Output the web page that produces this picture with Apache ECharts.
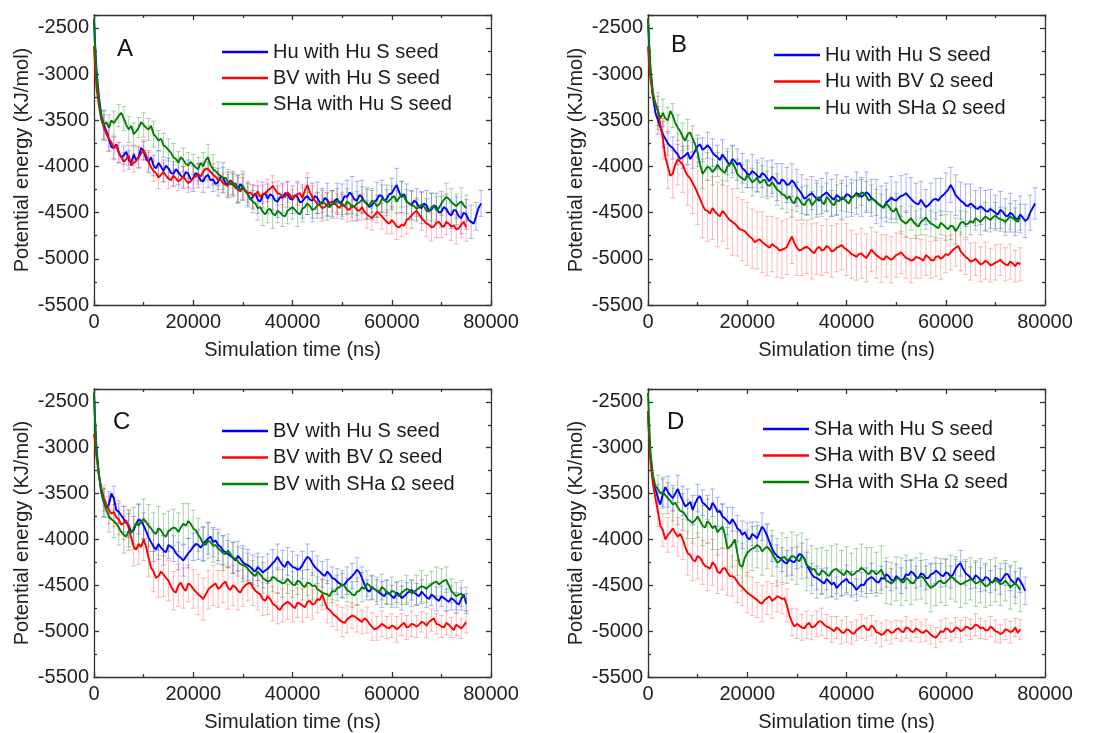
<!DOCTYPE html>
<html><head><meta charset="utf-8">
<script src="https://cdn.jsdelivr.net/npm/echarts@6/dist/echarts.min.js"></script>
<style>html,body{margin:0;padding:0;background:#fff}#c{width:1104px;height:733px}</style>
</head><body><div id="c"></div>
<script>
// time samples (ns)
const T = [0,250,500,1000,1500,2000,2500,3000,3500,4000,4500,5000,5500,6000,6500,7000,7500,8000,8500,9000,9500,10000,10500,11000,11500,12000,12500,13000,13500,14000,14500,15000,15500,16000,16500,17000,17500,18000,18500,19000,19500,20000,20500,21000,21500,22000,22500,23000,23500,24000,24500,25000,25500,26000,26500,27000,27500,28000,28500,29000,29500,30000,30500,31000,31500,32000,32500,33000,33500,34000,34500,35000,35500,36000,36500,37000,37500,38000,38500,39000,39500,40000,40500,41000,41500,42000,42500,43000,43500,44000,44500,45000,45500,46000,46500,47000,47500,48000,48500,49000,49500,50000,50500,51000,51500,52000,52500,53000,53500,54000,54500,55000,55500,56000,56500,57000,57500,58000,58500,59000,59500,60000,60500,61000,61500,62000,62500,63000,63500,64000,64500,65000,65500,66000,66500,67000,67500,68000,68500,69000,69500,70000,70500,71000,71500,72000,72500,73000,73500,74000,74500,75000,75500,76000,76500,77000,77500,78000];
// error-bar sample times (ns)
const EX = [2000,3000,4000,5000,6000,7000,8000,9000,10000,11000,12000,13000,14000,15000,16000,17000,18000,19000,20000,21000,22000,23000,24000,25000,26000,27000,28000,29000,30000,31000,32000,33000,34000,35000,36000,37000,38000,39000,40000,41000,42000,43000,44000,45000,46000,47000,48000,49000,50000,51000,52000,53000,54000,55000,56000,57000,58000,59000,60000,61000,62000,63000,64000,65000,66000,67000,68000,69000,70000,71000,72000,73000,74000,75000,76000,77000,78000];

const xTicks = [0,20000,40000,60000,80000];
const yTicks = [-5500,-5000,-4500,-4000,-3500,-3000,-2500];

const namesA = ['Hu with Hu S seed','BV with Hu S seed','SHa with Hu S seed'];
const namesB = ['Hu with Hu S seed','Hu with BV Ω seed','Hu with SHa Ω seed'];
const namesC = ['BV with Hu S seed','BV with BV Ω seed','BV with SHa Ω seed'];
const namesD = ['SHa with Hu S seed','SHa with BV Ω seed','SHa with SHa Ω seed'];

// ---- Panel A ----
const A_blue = [-2400,-2700,-2950,-3250,-3450,-3550,-3620,-3700,
-3790,-3800,-3760,-3850,-3900,-3880,-3840,-3930,-3960,-3870,-3930,-3900,-3800,-3830,-3920,-3950,-3900,-3990,-4020,-3960,-4000,-4050,-3990,-4020,-4070,-4080,-4030,-4060,-4100,-4120,-4060,-4080,-4140,-4130,-4070,-4100,-4150,-4160,-4110,-4090,-4150,-4140,-4190,-4170,-4110,-4120,-4180,-4200,-4150,-4180,-4230,-4250,-4190,-4220,-4270,-4300,-4360,-4330,-4290,-4360,-4380,-4310,-4290,-4350,-4300,-4320,-4370,-4380,-4330,-4340,-4290,-4300,-4350,-4360,-4310,-4330,-4390,-4380,-4340,-4320,-4360,-4370,-4320,-4340,-4390,-4400,-4340,-4360,-4420,-4410,-4370,-4350,-4400,-4380,-4320,-4330,-4280,-4310,-4360,-4370,-4310,-4330,-4380,-4400,-4440,-4420,-4380,-4360,-4310,-4320,-4370,-4350,-4300,-4290,-4240,-4200,-4280,-4330,-4300,-4380,-4400,-4420,-4370,-4390,-4440,-4450,-4400,-4420,-4480,-4470,-4420,-4440,-4500,-4490,-4440,-4460,-4510,-4530,-4470,-4480,-4540,-4560,-4500,-4520,-4580,-4600,-4620,-4540,-4450,-4400];
const A_red = [-2700,-2950,-3150,-3350,-3500,-3580,-3650,-3700,
-3740,-3800,-3770,-3850,-3900,-3950,-3920,-3880,-3990,-3960,-3940,-3900,-3860,-3820,-3880,-3950,-4010,-4050,-4070,-4120,-4090,-4060,-4100,-4130,-4150,-4100,-4130,-4160,-4140,-4110,-4150,-4180,-4160,-4120,-4110,-4080,-4110,-4060,-4020,-4030,-4060,-4090,-4110,-4150,-4140,-4180,-4200,-4210,-4160,-4190,-4220,-4250,-4270,-4230,-4260,-4290,-4280,-4320,-4310,-4270,-4330,-4300,-4290,-4260,-4240,-4210,-4250,-4290,-4300,-4320,-4330,-4280,-4310,-4350,-4320,-4300,-4290,-4340,-4260,-4200,-4280,-4330,-4370,-4400,-4420,-4450,-4440,-4410,-4390,-4380,-4400,-4430,-4450,-4400,-4430,-4460,-4470,-4420,-4440,-4470,-4480,-4440,-4490,-4520,-4540,-4560,-4530,-4490,-4510,-4540,-4570,-4600,-4620,-4580,-4610,-4650,-4660,-4630,-4640,-4580,-4560,-4530,-4500,-4480,-4520,-4560,-4590,-4620,-4630,-4660,-4650,-4610,-4600,-4640,-4650,-4600,-4620,-4650,-4640,-4680,-4670,-4630,-4600,-4660];
const A_green = [-2400,-2750,-3000,-3300,-3480,-3550,-3520,-3580,
-3500,-3530,-3490,-3450,-3420,-3480,-3550,-3600,-3560,-3650,-3620,-3580,-3520,-3550,-3580,-3600,-3560,-3650,-3680,-3720,-3700,-3770,-3790,-3820,-3850,-3900,-3920,-3960,-3900,-3930,-3970,-3990,-3950,-3980,-4010,-4030,-3960,-4000,-3930,-3900,-3990,-4030,-4050,-4080,-4100,-4130,-4120,-4170,-4190,-4200,-4180,-4240,-4250,-4210,-4260,-4300,-4350,-4380,-4400,-4450,-4440,-4490,-4520,-4470,-4460,-4510,-4530,-4480,-4500,-4530,-4540,-4480,-4460,-4440,-4470,-4500,-4520,-4460,-4440,-4400,-4430,-4470,-4460,-4420,-4410,-4380,-4400,-4430,-4440,-4400,-4410,-4370,-4380,-4420,-4430,-4380,-4400,-4440,-4430,-4400,-4390,-4360,-4380,-4410,-4420,-4370,-4390,-4430,-4410,-4350,-4360,-4390,-4370,-4340,-4320,-4380,-4340,-4300,-4330,-4380,-4400,-4420,-4430,-4460,-4440,-4410,-4430,-4480,-4490,-4440,-4430,-4470,-4450,-4400,-4360,-4330,-4350,-4380,-4410,-4430,-4400,-4380,-4420,-4450];
const A_blue_err = [160,140,120,110,100,100,90,110,100,120,110,130,120,110,130,140,120,150,140,130,120,140,130,150,160,140,130,150,140,120,130,150,140,160,150,170,160,140,150,170,180,200,190,170,160,180,150,170,190,180,200,210,180,170,160,190,170,150,160,180,170,190,160,150,170,160,180,150,170,160,140,150,170,160,180,150,140];
const A_red_err = [140,130,120,110,100,110,100,120,110,100,110,120,100,110,120,100,110,100,120,110,100,110,120,100,110,120,110,130,110,100,120,110,100,120,110,130,120,110,100,120,110,130,120,110,140,120,110,130,120,140,130,120,140,150,130,120,140,130,150,140,130,150,140,120,130,140,150,160,130,140,150,160,140,150];
const A_green_err = [150,140,130,120,130,140,120,110,130,120,140,110,130,120,150,120,130,140,110,130,150,140,160,130,120,140,130,150,160,140,120,130,150,140,160,130,120,140,130,150,140,120,130,140,120,150,140,130,120,140,150,130,140,160,130,120,150,140,130,120,140,130,150,120,140,130,150,140,130,150,140,130,150,140];

// ---- Panel B ----
const B_blue = [-2400,-2700,-2950,-3250,-3420,-3500,-3580,-3650,
-3700,-3750,-3780,-3800,-3840,-3870,-3920,-3900,-3880,-3850,-3920,-3880,-3830,-3780,-3760,-3820,-3800,-3770,-3800,-3850,-3880,-3900,-3930,-3870,-3910,-3950,-3980,-3920,-3940,-3980,-3960,-4020,-4040,-4080,-4090,-4050,-4070,-4100,-4120,-4070,-4090,-4130,-4160,-4110,-4130,-4170,-4190,-4140,-4160,-4200,-4190,-4150,-4180,-4230,-4260,-4300,-4350,-4330,-4310,-4290,-4320,-4350,-4370,-4320,-4300,-4280,-4310,-4340,-4360,-4310,-4330,-4360,-4340,-4300,-4310,-4340,-4320,-4290,-4300,-4330,-4310,-4280,-4300,-4340,-4360,-4380,-4410,-4430,-4440,-4390,-4370,-4340,-4360,-4370,-4340,-4320,-4310,-4290,-4320,-4350,-4380,-4400,-4410,-4360,-4400,-4440,-4420,-4390,-4360,-4350,-4370,-4330,-4310,-4280,-4250,-4200,-4250,-4310,-4340,-4370,-4390,-4420,-4430,-4400,-4420,-4450,-4460,-4430,-4450,-4480,-4490,-4460,-4480,-4500,-4520,-4470,-4490,-4530,-4540,-4500,-4520,-4560,-4570,-4520,-4550,-4590,-4570,-4500,-4450,-4400];
const B_red = [-2700,-2900,-3050,-3250,-3320,-3400,-3550,-3700,
-3900,-4000,-4100,-4080,-3980,-3920,-3950,-3980,-4050,-4100,-4130,-4180,-4230,-4290,-4350,-4420,-4470,-4480,-4510,-4450,-4490,-4520,-4540,-4480,-4510,-4550,-4580,-4600,-4620,-4650,-4680,-4690,-4700,-4730,-4760,-4780,-4820,-4800,-4790,-4820,-4840,-4860,-4880,-4840,-4860,-4880,-4910,-4900,-4890,-4870,-4810,-4760,-4830,-4880,-4910,-4900,-4880,-4870,-4890,-4920,-4940,-4890,-4870,-4910,-4900,-4860,-4880,-4920,-4910,-4880,-4870,-4850,-4880,-4900,-4920,-4950,-4960,-4980,-4950,-4940,-4970,-4990,-4950,-4900,-4930,-4960,-4980,-5000,-5010,-4970,-4990,-5010,-4990,-4960,-4950,-4930,-4960,-4990,-5000,-5020,-5010,-4980,-4990,-5000,-5020,-4960,-4980,-5010,-5020,-4980,-4970,-5000,-4980,-4950,-4960,-4930,-4900,-4880,-4860,-4920,-4950,-4980,-5000,-5030,-5020,-5000,-5030,-5060,-5050,-5020,-5040,-5070,-5060,-5040,-5030,-5010,-5040,-5060,-5070,-5030,-5050,-5080,-5040,-5060];
const B_green = [-2400,-2700,-2950,-3200,-3320,-3400,-3480,-3420,
-3480,-3500,-3400,-3450,-3530,-3580,-3620,-3680,-3720,-3650,-3630,-3700,-3760,-3850,-3980,-4080,-4040,-4000,-4020,-4060,-4030,-3980,-4020,-4050,-4070,-4000,-3980,-3950,-4010,-4080,-4110,-4130,-4150,-4090,-4130,-4170,-4150,-4120,-4180,-4160,-4140,-4200,-4210,-4170,-4210,-4250,-4270,-4300,-4310,-4350,-4320,-4380,-4400,-4330,-4360,-4400,-4420,-4370,-4350,-4420,-4390,-4350,-4330,-4380,-4410,-4330,-4360,-4400,-4420,-4360,-4380,-4330,-4350,-4380,-4400,-4340,-4320,-4300,-4330,-4280,-4290,-4320,-4370,-4350,-4360,-4390,-4410,-4430,-4450,-4400,-4430,-4470,-4490,-4450,-4520,-4580,-4600,-4620,-4590,-4560,-4600,-4630,-4650,-4600,-4580,-4550,-4590,-4620,-4630,-4650,-4670,-4610,-4630,-4660,-4680,-4640,-4650,-4700,-4660,-4610,-4600,-4630,-4620,-4590,-4610,-4560,-4580,-4600,-4570,-4540,-4560,-4580,-4550,-4530,-4560,-4570,-4580,-4600,-4570,-4540,-4560,-4580,-4600,-4550];
const B_blue_err = [150,140,130,120,110,120,130,140,120,130,140,150,130,160,140,150,170,160,150,180,170,160,190,180,200,170,190,180,200,210,190,180,200,190,210,200,220,210,190,200,230,210,220,200,240,220,210,230,200,220,210,230,220,200,190,210,220,200,210,190,220,200,230,210,190,200,220,210,190,200,180,210,190,200,180,190,170];
const B_red_err = [200,220,240,260,280,300,320,330,340,350,330,340,350,330,340,360,320,330,340,320,310,330,320,300,320,310,300,290,300,280,290,300,280,270,290,280,260,270,280,260,250,270,260,240,250,260,230,250,240,230,220,240,230,210,220,200,210,220,200,190,200,210,190,200,180,190,200,180,190,170,180,190,170,180];
const B_green_err = [160,150,140,130,140,150,160,140,150,160,150,140,130,150,160,170,160,150,140,150,160,170,150,160,170,160,150,170,160,180,160,150,170,160,150,140,160,150,170,160,150,140,160,150,140,130,150,140,160,150,140,130,150,140,130,140,150,130,140,150,140,130,140,150,130,140,150,130,140,130,150,140,130,140];

// ---- Panel C ----
const C_blue = [-2400,-2750,-3000,-3300,-3500,-3600,-3650,-3620,
-3500,-3550,-3680,-3700,-3740,-3780,-3820,-3850,-3920,-3900,-3830,-3780,-3800,-3850,-3910,-3980,-4030,-4080,-4110,-4050,-4090,-4120,-4140,-4060,-4080,-4100,-4150,-4180,-4200,-4230,-4190,-4150,-4120,-4080,-4050,-4060,-4090,-4050,-4020,-3990,-3970,-4030,-4010,-4060,-4080,-4120,-4140,-4160,-4180,-4200,-4230,-4180,-4210,-4250,-4270,-4280,-4300,-4330,-4350,-4300,-4330,-4360,-4340,-4320,-4290,-4260,-4230,-4190,-4240,-4280,-4300,-4240,-4270,-4300,-4310,-4330,-4320,-4280,-4230,-4190,-4210,-4260,-4300,-4330,-4350,-4380,-4400,-4350,-4380,-4420,-4430,-4460,-4480,-4500,-4490,-4450,-4430,-4400,-4370,-4330,-4360,-4420,-4490,-4550,-4570,-4520,-4540,-4560,-4580,-4600,-4620,-4570,-4590,-4620,-4640,-4580,-4600,-4640,-4620,-4590,-4570,-4550,-4580,-4600,-4620,-4570,-4600,-4630,-4650,-4600,-4620,-4650,-4670,-4620,-4640,-4660,-4680,-4640,-4660,-4690,-4710,-4650,-4600,-4700];
const C_red = [-2850,-2950,-3100,-3300,-3450,-3550,-3620,-3680,
-3720,-3700,-3760,-3780,-3840,-3820,-3790,-3880,-3980,-4080,-4110,-4050,-4080,-4000,-4080,-4200,-4310,-4350,-4420,-4400,-4350,-4380,-4420,-4450,-4510,-4560,-4580,-4500,-4470,-4530,-4560,-4480,-4500,-4540,-4570,-4600,-4620,-4650,-4600,-4550,-4520,-4500,-4480,-4540,-4520,-4480,-4460,-4530,-4550,-4500,-4520,-4560,-4580,-4530,-4500,-4480,-4470,-4520,-4560,-4580,-4600,-4650,-4670,-4620,-4650,-4700,-4720,-4750,-4770,-4720,-4700,-4680,-4700,-4730,-4750,-4690,-4700,-4720,-4740,-4680,-4670,-4710,-4700,-4650,-4660,-4600,-4680,-4750,-4770,-4800,-4830,-4850,-4880,-4900,-4910,-4870,-4850,-4830,-4840,-4860,-4880,-4900,-4860,-4880,-4920,-4950,-4980,-4970,-4950,-4920,-4940,-4960,-4970,-4940,-4950,-4980,-4960,-4930,-4910,-4960,-4950,-4920,-4930,-4950,-4930,-4900,-4910,-4940,-4900,-4880,-4860,-4920,-4930,-4950,-4960,-4910,-4930,-4960,-4990,-4930,-4950,-4970,-4940,-4900];
const C_green = [-2400,-2750,-3050,-3300,-3480,-3600,-3680,-3750,
-3780,-3800,-3830,-3870,-3920,-3950,-3970,-3900,-3930,-3880,-3820,-3850,-3800,-3780,-3810,-3850,-3880,-3920,-3940,-3880,-3900,-3950,-3970,-3910,-3890,-3870,-3880,-3920,-3870,-3830,-3850,-3800,-3830,-3880,-3900,-3950,-3990,-4050,-4060,-4010,-4030,-4070,-4060,-4100,-4120,-4150,-4160,-4120,-4160,-4200,-4210,-4240,-4270,-4280,-4290,-4320,-4350,-4380,-4400,-4350,-4380,-4420,-4440,-4460,-4450,-4410,-4420,-4450,-4460,-4480,-4470,-4430,-4460,-4490,-4500,-4450,-4460,-4500,-4520,-4470,-4480,-4510,-4500,-4540,-4560,-4580,-4590,-4600,-4620,-4560,-4570,-4530,-4520,-4490,-4510,-4550,-4570,-4600,-4610,-4570,-4560,-4520,-4540,-4480,-4500,-4530,-4540,-4560,-4570,-4520,-4540,-4580,-4600,-4560,-4570,-4600,-4620,-4580,-4560,-4540,-4550,-4590,-4570,-4550,-4530,-4510,-4520,-4540,-4510,-4490,-4470,-4460,-4490,-4470,-4450,-4440,-4500,-4560,-4590,-4620,-4600,-4590,-4630,-4650];
const C_blue_err = [150,140,130,120,140,130,150,160,140,150,160,170,160,150,140,150,170,160,150,160,180,170,160,170,160,150,170,160,180,170,160,150,170,160,150,140,160,150,170,160,150,140,130,150,140,130,120,140,130,150,140,130,120,110,130,120,140,130,120,110,130,120,110,120,130,110,120,130,110,120,130,110,120,110];
const C_red_err = [140,150,160,170,180,200,210,220,230,210,220,230,240,220,210,230,220,200,210,220,230,210,220,200,210,230,220,210,200,190,200,190,180,200,190,170,180,190,170,160,180,170,160,150,170,160,150,140,160,150,140,150,130,140,150,130,140,120,130,140,120,130,140,120,110,130,120,110,120,130,110,120,110,120];
const C_green_err = [160,170,180,190,200,220,230,240,220,230,210,240,230,220,200,210,220,190,200,180,190,200,180,170,190,180,170,160,180,170,150,160,170,150,160,140,150,160,140,150,160,140,150,130,140,150,130,140,150,130,140,150,160,140,130,150,140,130,150,140,130,150,140,160,170,150,140,160,150,140,130,150,140,130];

// ---- Panel D ----
const D_blue = [-2600,-2900,-3100,-3350,-3450,-3550,-3620,-3500,
-3430,-3480,-3520,-3550,-3500,-3450,-3520,-3580,-3640,-3620,-3590,-3680,-3610,-3550,-3530,-3600,-3620,-3650,-3680,-3600,-3640,-3700,-3690,-3750,-3770,-3800,-3830,-3780,-3820,-3880,-3900,-3950,-3920,-3980,-4000,-3940,-3960,-3990,-3920,-3860,-3900,-3960,-4030,-4100,-4150,-4180,-4200,-4220,-4250,-4260,-4220,-4240,-4250,-4200,-4160,-4170,-4210,-4280,-4330,-4380,-4410,-4420,-4440,-4460,-4480,-4430,-4460,-4490,-4470,-4530,-4500,-4470,-4450,-4430,-4470,-4480,-4510,-4550,-4520,-4490,-4500,-4450,-4430,-4410,-4430,-4460,-4470,-4420,-4430,-4380,-4400,-4440,-4450,-4400,-4420,-4450,-4430,-4380,-4390,-4350,-4370,-4410,-4420,-4370,-4380,-4420,-4420,-4380,-4370,-4340,-4360,-4390,-4400,-4360,-4370,-4410,-4380,-4320,-4280,-4260,-4320,-4370,-4390,-4420,-4440,-4390,-4410,-4440,-4450,-4410,-4420,-4460,-4470,-4420,-4430,-4460,-4420,-4380,-4380,-4430,-4460,-4490,-4420,-4450,-4500,-4560];
const D_red = [-2600,-2900,-3150,-3400,-3550,-3700,-3850,-3900,
-4000,-3950,-3920,-3880,-3930,-3970,-3940,-4000,-4080,-4150,-4170,-4220,-4240,-4180,-4200,-4250,-4290,-4300,-4320,-4250,-4280,-4350,-4370,-4320,-4310,-4360,-4400,-4400,-4420,-4460,-4500,-4520,-4550,-4580,-4600,-4620,-4640,-4660,-4690,-4700,-4660,-4640,-4620,-4670,-4650,-4620,-4630,-4650,-4640,-4720,-4830,-4900,-4950,-4920,-4940,-4960,-4970,-4930,-4910,-4960,-4950,-4920,-4890,-4900,-4930,-4950,-4960,-4980,-5000,-4960,-4980,-5010,-5020,-4980,-4990,-5020,-5030,-4990,-4970,-4950,-4940,-4980,-4990,-4940,-4960,-5010,-5020,-5040,-5030,-4990,-4990,-5020,-5010,-4980,-4970,-5000,-5010,-4960,-4970,-5000,-5010,-4970,-4990,-5010,-5020,-4990,-5010,-5040,-5060,-5070,-5040,-5000,-5010,-4970,-4980,-5010,-5000,-4960,-4970,-5000,-4990,-4950,-4960,-4980,-4960,-4930,-4940,-4970,-4960,-4990,-4990,-4950,-4970,-5000,-5010,-5030,-5020,-4980,-4990,-5010,-5000,-4960,-5020,-4980];
const D_green = [-2400,-2750,-3050,-3300,-3420,-3450,-3500,-3480,
-3520,-3550,-3580,-3620,-3600,-3650,-3690,-3700,-3730,-3780,-3800,-3820,-3790,-3750,-3800,-3850,-3870,-3800,-3830,-3880,-3850,-3920,-3890,-3860,-3950,-4100,-4080,-4050,-4000,-4150,-4280,-4300,-4200,-4150,-4120,-4100,-4090,-4060,-4080,-4130,-4100,-4080,-4110,-4150,-4200,-4250,-4240,-4200,-4190,-4230,-4210,-4180,-4190,-4220,-4240,-4180,-4210,-4280,-4300,-4330,-4320,-4370,-4390,-4340,-4350,-4380,-4400,-4350,-4330,-4320,-4350,-4370,-4390,-4340,-4360,-4390,-4380,-4350,-4340,-4310,-4330,-4360,-4380,-4340,-4350,-4380,-4360,-4330,-4390,-4450,-4460,-4480,-4460,-4430,-4420,-4460,-4470,-4420,-4440,-4470,-4480,-4430,-4420,-4400,-4420,-4460,-4500,-4530,-4510,-4490,-4460,-4450,-4480,-4470,-4440,-4410,-4420,-4450,-4470,-4490,-4480,-4460,-4450,-4430,-4450,-4480,-4470,-4450,-4480,-4510,-4500,-4470,-4460,-4440,-4460,-4490,-4480,-4450,-4480,-4520,-4500,-4470,-4510,-4550];
const D_blue_err = [150,160,170,140,150,160,170,160,150,140,130,150,160,140,150,130,140,150,160,130,140,150,130,140,120,130,140,150,120,130,140,120,130,140,120,130,120,140,150,130,120,130,140,150,120,130,140,120,130,140,150,130,120,140,130,120,140,130,150,120,130,140,130,120,140,130,150,120,130,140,120,130,140,130,150];
const D_red_err = [160,180,190,200,210,220,240,230,250,240,260,250,240,230,250,220,230,200,220,210,190,200,180,190,170,160,180,150,160,140,150,130,140,150,130,140,120,130,140,120,110,130,120,110,120,130,110,120,100,110,120,110,100,110,120,100,110,120,110,100,110,120,100,110,120,110,100,110,120,100,110,120,100,110];
const D_green_err = [150,160,170,180,190,200,210,220,230,220,240,230,250,240,230,250,240,260,250,240,250,260,240,250,260,270,250,260,270,250,280,260,270,250,260,280,270,250,260,240,250,260,270,250,240,260,250,230,240,260,250,240,230,250,240,260,230,240,250,240,230,250,240,230,250,240,230,250,240,230,220,240,230,240];

const COLORS = ['#0000ff','#ff0000','#008000'];
const ERRCOLORS = ['rgba(70,70,255,0.42)','rgba(255,70,70,0.38)','rgba(40,140,40,0.38)'];
const FONT = '"Liberation Sans", Arial, Helvetica, sans-serif';

const panels = [
  {letter:'A', names:namesA, vals:[A_blue,A_red,A_green], errs:[A_blue_err,A_red_err,A_green_err],
   grid:{left:94,top:15,width:397,height:290}, letterPos:[126,50], legend:{left:222,top:42,itemGap:6}},
  {letter:'B', names:namesB, vals:[B_blue,B_red,B_green], errs:[B_blue_err,B_red_err,B_green_err],
   grid:{left:648,top:15,width:397,height:290}, letterPos:[680,46], legend:{left:774,top:45,itemGap:6.5}},
  {letter:'C', names:namesC, vals:[C_blue,C_red,C_green], errs:[C_blue_err,C_red_err,C_green_err],
   grid:{left:94,top:389,width:397,height:290}, letterPos:[122,423], legend:{left:222,top:421,itemGap:6.5}},
  {letter:'D', names:namesD, vals:[D_blue,D_red,D_green], errs:[D_blue_err,D_red_err,D_green_err],
   grid:{left:648,top:389,width:397,height:290}, letterPos:[676,423], legend:{left:763,top:419,itemGap:6.5}}
];

const axisLineStyle = {color:'#333', width:1.3};
const labelStyle = {fontSize:20, color:'#222', fontFamily:FONT};

const grids=[], xAxes=[], yAxes=[], series=[], legends=[], graphics=[];
function tickParts() {
  return {axisLine:{show:true, onZero:false, lineStyle:axisLineStyle},
    axisTick:{show:true, inside:true, length:5, lineStyle:axisLineStyle},
    minorTick:{show:true, splitNumber:2, length:3, lineStyle:axisLineStyle},
    splitLine:{show:false}};
}
panels.forEach((p, pi) => {
  grids.push(Object.assign({containLabel:false}, p.grid));
  xAxes.push(Object.assign({gridIndex:pi, type:'value', min:0, max:80000, interval:20000, position:'bottom',
    name:'Simulation time (ns)', nameLocation:'middle', nameGap:35,
    nameTextStyle:{fontSize:20, color:'#222', fontFamily:FONT},
    axisLabel:Object.assign({margin:7, formatter: v => xTicks.includes(v) ? String(v) : ''}, labelStyle)}, tickParts()));
  yAxes.push(Object.assign({gridIndex:pi, type:'value', min:-5500, max:-2360, interval:500, position:'left',
    name:'Potential energy (KJ/mol)', nameLocation:'middle', nameGap:62,
    nameTextStyle:{fontSize:20, color:'#222', fontFamily:FONT},
    axisLabel:Object.assign({margin:5, formatter: v => yTicks.includes(v) ? String(v) : ''}, labelStyle)}, tickParts()));
  legends.push({orient:'vertical', left:p.legend.left, top:p.legend.top, itemGap:p.legend.itemGap,
    itemWidth:46, itemHeight:2.5, icon:'rect', padding:0, selectedMode:false,
    data:p.names.map((n, k) => ({name:n, icon:'rect', itemStyle:{color:COLORS[k], borderWidth:0}})),
    textStyle:{fontSize:20, lineHeight:20, color:'#1a1a1a', fontFamily:FONT}});
  graphics.push({type:'text', left:p.letterPos[0]-9, top:p.letterPos[1]-13,
    style:{text:p.letter, fontSize:24, fill:'#111', fontFamily:FONT}});
});
// mirrored top / right axes (ticks only)
panels.forEach((p, pi) => {
  xAxes.push(Object.assign({gridIndex:pi, type:'value', position:'top', min:0, max:80000, interval:20000,
    axisLabel:{show:false}}, tickParts()));
  yAxes.push(Object.assign({gridIndex:pi, type:'value', position:'right', min:-5500, max:-2360, interval:500,
    axisLabel:{show:false}}, tickParts()));
});

panels.forEach((p, pi) => {
  p.vals.forEach((vals, k) => {
    const errs = p.errs[k];
    const data = [];
    errs.forEach((e, j) => {
      const i = T.indexOf(EX[j]);
      if (i >= 0 && i < vals.length) data.push([EX[j], vals[i]-e, vals[i]+e]);
    });
    series.push({type:'custom', xAxisIndex:pi, yAxisIndex:pi, z:1, silent:true,
      data, encode:{x:0, y:[1,2]},
      renderItem:(params, api) => {
        const x = api.value(0);
        const top = api.coord([x, api.value(2)]);
        const bot = api.coord([x, api.value(1)]);
        const cw = 2.5;
        const st = {stroke:ERRCOLORS[k], lineWidth:1};
        return {type:'group', children:[
          {type:'line', shape:{x1:top[0], y1:top[1], x2:bot[0], y2:bot[1]}, style:st},
          {type:'line', shape:{x1:top[0]-cw, y1:top[1], x2:top[0]+cw, y2:top[1]}, style:st},
          {type:'line', shape:{x1:bot[0]-cw, y1:bot[1], x2:bot[0]+cw, y2:bot[1]}, style:st}
        ]};
      }});
  });
  p.vals.forEach((vals, k) => {
    const n = Math.min(vals.length, T.length);
    const data = [];
    for (let i = 0; i < n; i++) data.push([T[i], vals[i]]);
    series.push({type:'line', name:p.names[k], xAxisIndex:pi, yAxisIndex:pi, z:3 + (k===0?0:k),
      data, showSymbol:false, symbol:'none',
      color:COLORS[k], lineStyle:{width:1.9, color:COLORS[k]}, itemStyle:{color:COLORS[k]}});
  });
});

const chart = echarts.init(document.getElementById('c'), null, {renderer:'canvas'});
chart.setOption({backgroundColor:'#fff', animation:false, textStyle:{fontFamily:FONT},
  grid:grids, xAxis:xAxes, yAxis:yAxes, legend:legends, series, graphic:graphics});
</script>
</body></html>
